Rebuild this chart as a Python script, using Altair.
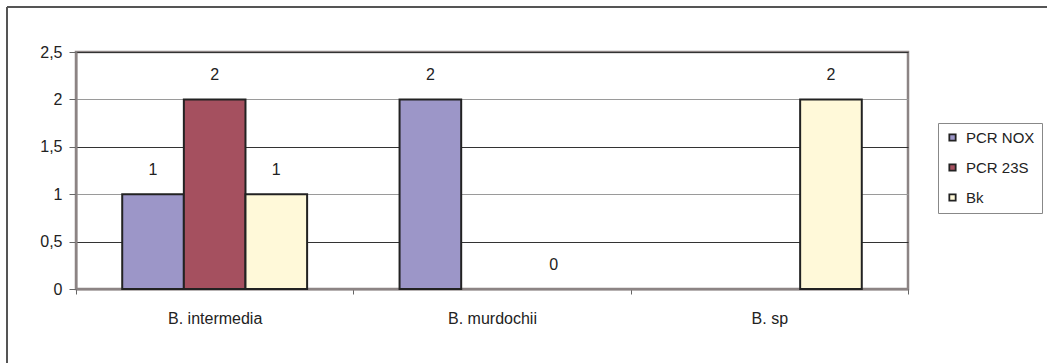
import altair as alt
import pandas as pd

categories = ["B. intermedia", "B. murdochii", "B. sp"]
series = ["PCR NOX", "PCR 23S", "Bk"]
pcr_nox = [1, 2, None]
pcr_23s = [2, None, None]
bk = [1, 0, 2]
colors = ["#9C96C8", "#A5505F", "#FFF9D9"]
y_ticks = [0, 0.5, 1, 1.5, 2, 2.5]

rows = []
for s, vals in zip(series, [pcr_nox, pcr_23s, bk]):
    for c, v in zip(categories, vals):
        if v is not None:
            rows.append({"cat": c, "series": s, "value": v, "label": str(v)})
df = pd.DataFrame(rows)

FONT = "Liberation Sans"
FS = 16

x_enc = alt.X("cat:N", sort=categories, title=None,
              scale=alt.Scale(paddingInner=0, paddingOuter=0),
              axis=alt.Axis(labelAngle=0, tickBand="extent", grid=False,
                            domainColor="#8C8484", domainWidth=2,
                            tickColor="#666", tickSize=5, labelPadding=16,
                            labelFontSize=FS, labelColor="#222", labelFont=FONT))
xo = alt.XOffset("series:N", sort=series,
                 scale=alt.Scale(domain=series, paddingOuter=0.75, paddingInner=0))
y_enc = alt.Y("value:Q", title=None,
              scale=alt.Scale(domain=[0, 2.5], nice=False),
              axis=alt.Axis(values=y_ticks,
                            labelExpr="replace(format(datum.value, '~g'), '.', ',')",
                            gridColor={"condition": {"test": "datum.value == 1 || datum.value == 2",
                                                     "value": "#9a9a9a"},
                                       "value": "#333333"},
                            gridWidth=1, domainColor="#8C8484", domainWidth=2,
                            tickColor="#666", tickSize=7, labelPadding=7,
                            labelFontSize=FS, labelColor="#222", labelFont=FONT))

bars = alt.Chart(df).transform_filter("datum.value > 0").mark_bar(
    stroke="#222222", strokeWidth=2).encode(
    x=x_enc, xOffset=xo, y=y_enc,
    color=alt.Color("series:N", sort=series,
                    scale=alt.Scale(domain=series, range=colors),
                    legend=alt.Legend(title=None, orient="none", legendX=862, legendY=71,
                                      strokeColor="#888", fillColor="white", padding=7,
                                      symbolType="square", symbolSize=40,
                                      symbolStrokeColor="#222", symbolStrokeWidth=1.8,
                                      labelFontSize=15, labelFont=FONT, labelColor="#222",
                                      rowPadding=14, labelOffset=6)),
)

labels = alt.Chart(df).mark_text(dy=-24, fontSize=FS, font=FONT, color="#222",
                                 baseline="middle").encode(
    x=alt.X("cat:N", sort=categories), xOffset=xo, y=alt.Y("value:Q"), text="label:N"
)

border_top = alt.Chart(df).mark_rule(color="#555", strokeWidth=2).encode(
    x=alt.value(-69), x2=alt.value(980), y=alt.value(-45)
)
border_left = alt.Chart(df).mark_rule(color="#555", strokeWidth=2).encode(
    x=alt.value(-69), y=alt.value(-45), y2=alt.value(320)
)

chart = alt.layer(bars, labels, border_top, border_left).properties(
    width=832, height=237,
    autosize=alt.AutoSizeParams(type="none"),
    padding={"left": 76, "top": 52, "right": 139, "bottom": 74},
    background="white",
).configure_view(stroke="#8C8484", strokeWidth=2.5)

chart.save("out.html", embed_options={"renderer": "svg", "actions": False})
